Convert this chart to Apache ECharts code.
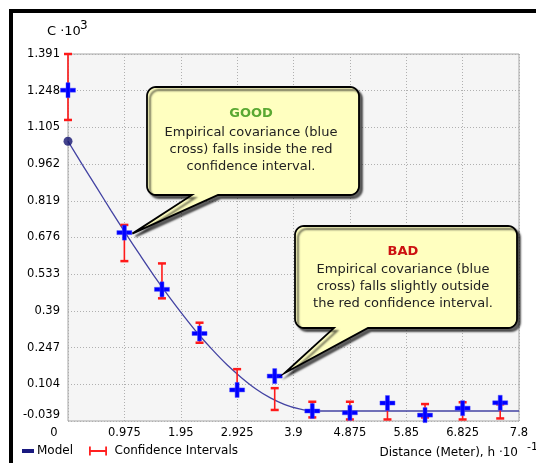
<!DOCTYPE html>
<html>
<head>
<meta charset="utf-8">
<script src="https://cdn.jsdelivr.net/npm/echarts@6/dist/echarts.min.js"></script>
<style>html,body{margin:0;padding:0;background:#fff;}#c{width:536px;height:463px;}</style>
</head>
<body>
<div id="c"></div>
<script>
// ---- data ----
const lagX      = [0, 0.975, 1.625, 2.275, 2.925, 3.575, 4.225, 4.875, 5.525, 6.175, 6.825, 7.475];
const empirical = [1.250, 0.695, 0.474, 0.302, 0.082, 0.136, 0.000, -0.007, 0.031, -0.016, 0.011, 0.032];
const ciLow     = [1.134, 0.584, 0.439, 0.266, 0.085, 0.004, -0.025, -0.033, -0.033, -0.025, -0.033, -0.029];
const ciHigh    = [1.391, 0.725, 0.575, 0.344, 0.163, 0.089, 0.036, 0.036, 0.028, 0.027, 0.034, 0.026];
const modelX    = [0, 0.25, 0.5, 0.75, 1.0, 1.25, 1.5, 1.75, 2.0, 2.25, 2.5, 2.75, 3.0, 3.25, 3.5, 3.75, 4.0, 4.25, 4.5, 5.0, 6.0, 7.0, 7.8];
const modelY    = [1.051, 0.959, 0.869, 0.779, 0.691, 0.606, 0.523, 0.445, 0.371, 0.301, 0.238, 0.180, 0.130, 0.086, 0.051, 0.025, 0.008, 0.000, 0.0, 0.0, 0.0, 0.0, 0.0];
const xTickLabels = ['0', '0.975', '1.95', '2.925', '3.9', '4.875', '5.85', '6.825', '7.8'];
const yTickLabels = ['-0.039', '0.104', '0.247', '0.39', '0.533', '0.676', '0.819', '0.962', '1.105', '1.248', '1.391'];
const xMin = 0, xMax = 7.8, xStep = 0.975;
const yMin = -0.039, yMax = 1.391, yStep = 0.143;

const FONT = 'DejaVu Sans';
const chart = echarts.init(document.getElementById('c'), null, {renderer: 'canvas'});

const option = {
  animation: false,
  backgroundColor: '#ffffff',
  grid: {left: 68, top: 54, right: 17, bottom: 42, show: true, backgroundColor: '#f5f5f5', borderColor: '#a6a6a6', borderWidth: 1},
  xAxis: {
    type: 'value', min: xMin, max: xMax, interval: xStep,
    axisLine: {show: false}, axisTick: {show: false},
    splitLine: {show: true, lineStyle: {color: '#b0b0b0', type: [1, 2], width: 1}},
    axisLabel: {
      margin: 6, color: '#000', fontFamily: FONT, fontSize: 11.5,
      formatter: function (v) {
        const i = Math.round((v - xMin) / xStep);
        return i === 0 ? '{z|' + xTickLabels[0] + '}' : xTickLabels[i];
      },
      rich: {z: {padding: [0, 28, 0, 0], fontFamily: FONT, fontSize: 11.5, color: '#000'}}
    }
  },
  yAxis: {
    type: 'value', min: yMin, max: yMax, interval: yStep,
    axisLine: {show: false}, axisTick: {show: false},
    splitLine: {show: true, lineStyle: {color: '#b0b0b0', type: [1, 2], width: 1}},
    axisLabel: {
      margin: 8, color: '#000', fontFamily: FONT, fontSize: 11.5,
      verticalAlignMinLabel: 'bottom',
      formatter: function (v) { return yTickLabels[Math.round((v - yMin) / yStep)]; }
    }
  },
  legend: [
    {data: [{name: 'Model', icon: 'rect', itemStyle: {color: '#1a1a80'}}], left: 22, top: 445, padding: 0,
     itemWidth: 12, itemHeight: 4, selectedMode: false, textStyle: {fontFamily: FONT, fontSize: 12, color: '#000', padding: [0, 0, 0, -2]}},
    {data: [{name: 'Confidence Intervals', icon: 'path://M0,0h2v10h-2zM2,4h16v2h-16zM18,0h2v10h-2z', itemStyle: {color: '#ff2020'}}],
     left: 89, top: 445, padding: 0, itemWidth: 19, itemHeight: 9, selectedMode: false,
     textStyle: {fontFamily: FONT, fontSize: 12, color: '#000', padding: [0, 0, 0, 2]}}
  ],
  series: [
    {
      name: 'Model', type: 'line', z: 2,
      data: modelX.map((x, i) => [x, modelY[i]]),
      showSymbol: false, symbol: 'none', smooth: 0.3,
      lineStyle: {color: '#4343a3', width: 1.3}, itemStyle: {color: '#1a1a80'}
    },
    {
      name: 'ModelStart', type: 'scatter', z: 5,
      data: [[modelX[0], modelY[0]]], symbol: 'circle', symbolSize: 9,
      itemStyle: {color: '#141470'}
    },
    {
      name: 'Confidence Intervals', type: 'custom', z: 3,
      itemStyle: {color: '#ff2020'},
      data: lagX.map((x, i) => [x, ciLow[i], ciHigh[i]]),
      encode: {x: 0, y: [1, 2]},
      renderItem: function (params, api) {
        const x = api.value(0);
        const lo = api.coord([x, api.value(1)]);
        const hi = api.coord([x, api.value(2)]);
        const red = '#ff1a1a';
        return {type: 'group', children: [
          {type: 'line', shape: {x1: lo[0], y1: lo[1], x2: hi[0], y2: hi[1]}, style: {stroke: red, lineWidth: 1.6}},
          {type: 'rect', shape: {x: hi[0] - 4, y: hi[1] - 1.25, width: 8, height: 2.5}, style: {fill: red}},
          {type: 'rect', shape: {x: lo[0] - 4, y: lo[1] - 1.25, width: 8, height: 2.5}, style: {fill: red}}
        ]};
      }
    },
    {
      name: 'Empirical', type: 'custom', z: 4,
      data: lagX.map((x, i) => [x, empirical[i]]),
      encode: {x: 0, y: 1},
      renderItem: function (params, api) {
        const c = api.coord([api.value(0), api.value(1)]);
        const st = {fill: '#0000ff', stroke: 'rgba(70,70,255,0.45)', lineWidth: 1};
        return {type: 'group', children: [
          {type: 'rect', shape: {x: c[0] - 7.5, y: c[1] - 2, width: 15, height: 4}, style: st},
          {type: 'rect', shape: {x: c[0] - 2, y: c[1] - 7.5, width: 4, height: 15}, style: st}
        ]};
      }
    }
  ]
};
chart.setOption(option);

// ---- annotations ----
function bubblePoints(x, y, w, h, r, t1, t2, tip) {
  const pts = [];
  const arc = (cx, cy, a0, a1) => {
    for (let k = 0; k <= 8; k++) {
      const a = (a0 + (a1 - a0) * k / 8) * Math.PI / 180;
      pts.push([cx + r * Math.cos(a), cy + r * Math.sin(a)]);
    }
  };
  arc(x + w - r, y + r, -90, 0);
  arc(x + w - r, y + h - r, 0, 90);
  pts.push([t2, y + h]);
  pts.push(tip);
  pts.push([t1, y + h]);
  arc(x + r, y + h - r, 90, 180);
  arc(x + r, y + r, 180, 270);
  return pts;
}
const pGood = chart.convertToPixel({gridIndex: 0}, [lagX[1], empirical[1]]);
const pBad = chart.convertToPixel({gridIndex: 0}, [lagX[5], empirical[5]]);
const bubbleStyle = {fill: '#ffffc0', stroke: '#000', lineWidth: 1.8,
  shadowBlur: 2, shadowOffsetX: 3, shadowOffsetY: 3, shadowColor: 'rgba(0,0,0,0.6)'};
const bodyColor = '#222';

chart.setOption({
  graphic: [
    {type: 'polygon', z: 100, shape: {points: bubblePoints(147, 87, 212, 108, 9, 192, 218, [pGood[0] + 8, pGood[1] + 1])}, style: bubbleStyle},
    {type: 'text', z: 101, style: {text: 'GOOD', x: 251, y: 114, textAlign: 'center', textVerticalAlign: 'middle',
      font: 'bold 13px "DejaVu Sans"', fill: '#5aa832'}},
    {type: 'text', z: 101, style: {text: 'Empirical covariance (blue\ncross) falls inside the red\nconfidence interval.',
      x: 251, y: 124.5, textAlign: 'center', textVerticalAlign: 'top', font: '13px "DejaVu Sans"', lineHeight: 17, fill: bodyColor}},

    {type: 'polygon', z: 100, shape: {points: bubblePoints(295, 226, 222, 102, 9, 334, 368, [pBad[0] + 10, pBad[1] - 3])}, style: bubbleStyle},
    {type: 'text', z: 101, style: {text: 'BAD', x: 403, y: 252, textAlign: 'center', textVerticalAlign: 'middle',
      font: 'bold 13px "DejaVu Sans"', fill: '#cc1111'}},
    {type: 'text', z: 101, style: {text: 'Empirical covariance (blue\ncross) falls slightly outside\nthe red confidence interval.',
      x: 403, y: 261.5, textAlign: 'center', textVerticalAlign: 'top', font: '13px "DejaVu Sans"', lineHeight: 17, fill: bodyColor}},

    // frame
    {type: 'rect', z: 110, shape: {x: 9, y: 9, width: 527, height: 4}, style: {fill: '#000'}},
    {type: 'rect', z: 110, shape: {x: 9, y: 9, width: 4, height: 454}, style: {fill: '#000'}},

    // axis titles
    {type: 'text', z: 101, style: {text: 'C ·10', x: 47, y: 32, textVerticalAlign: 'middle', font: '13px "DejaVu Sans"', fill: '#000'}},
    {type: 'text', z: 101, style: {text: '3', x: 80, y: 26, textVerticalAlign: 'middle', font: '12px "DejaVu Sans"', fill: '#000'}},
    {type: 'text', z: 101, style: {text: 'Distance (Meter), h ·10', x: 518, y: 453, textAlign: 'right', textVerticalAlign: 'middle', font: '12px "DejaVu Sans"', fill: '#000'}},
    {type: 'text', z: 101, style: {text: '-1', x: 527, y: 447, textVerticalAlign: 'middle', font: '11px "DejaVu Sans"', fill: '#000'}}
  ]
});
</script>
</body>
</html>
